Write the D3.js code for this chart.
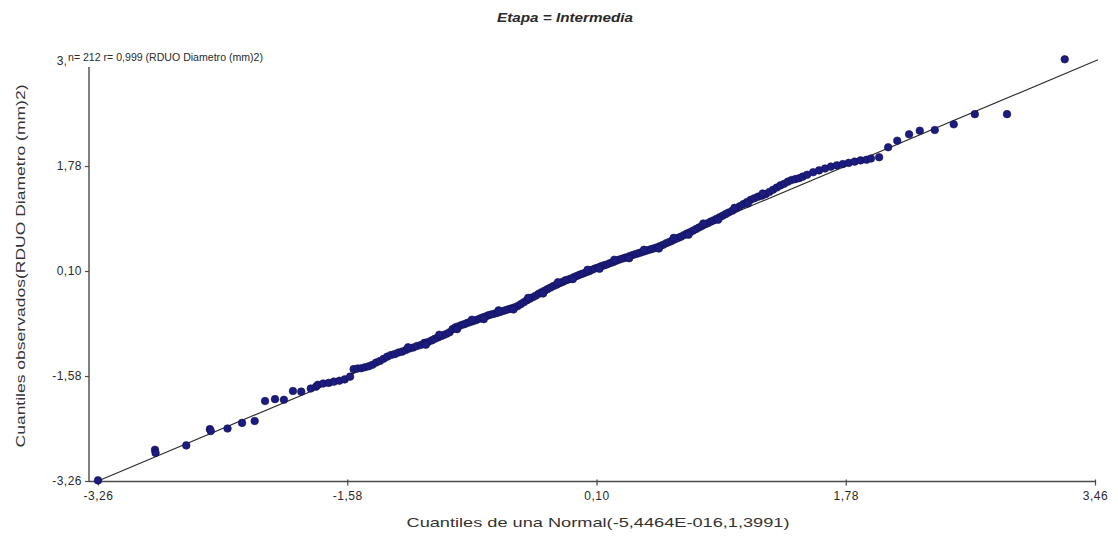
<!DOCTYPE html>
<html>
<head>
<meta charset="utf-8">
<script src="https://cdn.jsdelivr.net/npm/d3@7/dist/d3.min.js"></script>
<style>
  html, body { margin: 0; padding: 0; background: #fff; }
  svg { display: block; font-family: "Liberation Sans", Arial, sans-serif; }
</style>
</head>
<body>
<svg id="chart" width="1118" height="539"></svg>
<script>
// Normal Q-Q plot of RDUO Diametro (mm)2, stage "Intermedia"
const title = "Etapa = Intermedia";
const statsNote = "n= 212 r= 0,999 (RDUO Diametro (mm)2)";
const xTitle = "Cuantiles de una Normal(-5,4464E-016,1,3991)";
const yTitle = "Cuantiles observados(RDUO Diametro (mm)2)";

const tickValues = [-3.26, -1.58, 0.10, 1.78, 3.46];
const tickLabels = ["-3,26", "-1,58", "0,10", "1,78", "3,46"];

// theoretical normal quantiles (x) and observed quantiles (y)
const theoretical = [
  -3.26, -2.876, -2.872, -2.665, -2.506, -2.50, -2.387, -2.289, -2.204, -2.134, -2.067, -2.007, -1.946, -1.89,
  -1.826, -1.79, -1.778, -1.742, -1.705, -1.67, -1.633, -1.597, -1.561, -1.537, -1.51,
  -1.485, -1.46, -1.435, -1.41, -1.385, -1.36, -1.335, -1.31, -1.285, -1.26,
  -1.235, -1.21, -1.185, -1.16, -1.135, -1.11, -1.085, -1.06, -1.035, -1.01,
  -0.99, -0.97, -0.95, -0.93, -0.91, -0.89, -0.87, -0.85, -0.83, -0.81,
  -0.79, -0.77, -0.75, -0.73, -0.71, -0.69, -0.67, -0.65, -0.63, -0.61,
  -0.59, -0.57, -0.55, -0.53, -0.51, -0.49, -0.47, -0.45, -0.43, -0.41,
  -0.39, -0.37, -0.35, -0.33, -0.31, -0.29, -0.27, -0.25, -0.23, -0.21,
  -0.19, -0.17, -0.15, -0.13, -0.11, -0.09, -0.07, -0.05, -0.03, -0.01,
  0.01, 0.03, 0.05, 0.07, 0.09, 0.11, 0.13, 0.15, 0.17, 0.19,
  0.21, 0.23, 0.25, 0.27, 0.29, 0.31, 0.33, 0.35, 0.37, 0.39,
  0.41, 0.43, 0.45, 0.47, 0.49, 0.51, 0.53, 0.55, 0.57, 0.59,
  0.61, 0.63, 0.65, 0.67, 0.69, 0.71, 0.73, 0.75, 0.77, 0.79,
  0.81, 0.83, 0.85, 0.87, 0.89, 0.91, 0.93, 0.95, 0.97, 0.99,
  1.015, 1.04, 1.065, 1.09, 1.115, 1.14, 1.165, 1.19, 1.215, 1.24,
  1.265, 1.29, 1.315, 1.34, 1.365, 1.39, 1.415, 1.44, 1.465, 1.49,
  1.52, 1.56, 1.60, 1.64, 1.68, 1.72, 1.76, 1.80, 1.84, 1.88, 1.92, 1.95, 2.005,
  2.066, 2.127, 2.207, 2.279, 2.38, 2.508, 2.65, 2.867, 3.256,
  -1.17, -1.05, -0.96, -0.84, -0.74, -0.66, -0.56, -0.46, -0.36, -0.26,
  -0.16, -0.06, 0.04, 0.12, 0.22, 0.32, 0.42, 0.52, 0.62, 0.72,
  0.82, 0.92, 1.03, 1.12, 1.22
];
const observed = [
  -3.25, -2.76, -2.81, -2.69, -2.43, -2.46, -2.42, -2.33, -2.30, -1.98, -1.95, -1.96, -1.82, -1.83,
  -1.78, -1.75, -1.72, -1.70, -1.69, -1.67, -1.655, -1.634, -1.59, -1.47, -1.46,
  -1.455, -1.44, -1.425, -1.40, -1.365, -1.34, -1.305, -1.27, -1.245, -1.23,
  -1.205, -1.19, -1.165, -1.14, -1.125, -1.10, -1.085, -1.05, -1.035, -1.01,
  -0.985, -0.965, -0.945, -0.925, -0.905, -0.88, -0.83, -0.80, -0.785, -0.765,
  -0.75, -0.73, -0.715, -0.70, -0.685, -0.665, -0.645, -0.63, -0.61, -0.595,
  -0.585, -0.57, -0.555, -0.54, -0.525, -0.51, -0.495, -0.48, -0.46, -0.43,
  -0.40, -0.37, -0.345, -0.32, -0.295, -0.265, -0.24, -0.215, -0.19, -0.165,
  -0.14, -0.12, -0.095, -0.075, -0.05, -0.035, -0.02, 0.005, 0.025, 0.045,
  0.06, 0.08, 0.095, 0.12, 0.14, 0.155, 0.175, 0.19, 0.205, 0.225,
  0.24, 0.26, 0.28, 0.295, 0.31, 0.325, 0.345, 0.36, 0.375, 0.39,
  0.405, 0.42, 0.435, 0.45, 0.465, 0.48, 0.50, 0.52, 0.545, 0.565,
  0.585, 0.61, 0.63, 0.65, 0.675, 0.70, 0.72, 0.745, 0.77, 0.795,
  0.82, 0.845, 0.865, 0.89, 0.91, 0.935, 0.96, 0.985, 1.01, 1.035,
  1.065, 1.10, 1.135, 1.17, 1.205, 1.24, 1.265, 1.29, 1.305, 1.33,
  1.365, 1.40, 1.435, 1.47, 1.495, 1.53, 1.555, 1.57, 1.585, 1.61,
  1.64, 1.68, 1.71, 1.74, 1.77, 1.79, 1.81, 1.83, 1.85, 1.87, 1.88, 1.90, 1.92,
  2.08, 2.185, 2.287, 2.345, 2.356, 2.447, 2.61, 2.61, 3.487,
  -1.12, -1.08, -0.92, -0.83, -0.68, -0.67, -0.53, -0.515, -0.33, -0.26,
  -0.08, -0.03, 0.12, 0.135, 0.28, 0.305, 0.44, 0.46, 0.63, 0.68,
  0.86, 0.92, 1.11, 1.18, 1.34
];
// identity reference line endpoints
const refLine = [-3.26, 3.48];

const svg = d3.select("#chart");
const x = d3.scaleLinear().domain([-3.26, 3.46]).range([98, 1095]);
const y = d3.scaleLinear().domain([-3.26, 3.46]).range([481, 61]);
const axisColor = "#4a4a4a";
const textColor = "#2a2a2a";

// title
svg.append("text")
  .attr("x", 565).attr("y", 22)
  .attr("text-anchor", "middle")
  .attr("font-size", 12).attr("font-weight", "bold").attr("font-style", "italic")
  .attr("fill", textColor)
  .attr("textLength", 136).attr("lengthAdjust", "spacingAndGlyphs")
  .text(title);

// y axis
const yAxis = svg.append("g").attr("transform", "translate(89,0)")
  .call(d3.axisLeft(y).tickValues(tickValues).tickFormat((d, i) => tickLabels[i]).tickSize(4).tickPadding(3));
yAxis.select(".domain").attr("stroke", axisColor).attr("stroke-width", 1.4)
  .attr("d", `M0,${y(3.46)}V${y(-3.26)}`);
yAxis.selectAll(".tick line").attr("stroke", axisColor).attr("stroke-width", 1.2);
yAxis.selectAll(".tick text").attr("font-size", 12).attr("letter-spacing", 0.5).attr("fill", textColor)
  .attr("font-family", "Liberation Sans, Arial, sans-serif");

// x axis
const xAxis = svg.append("g").attr("transform", `translate(0,${y(-3.26) + 0.5})`)
  .call(d3.axisBottom(x).tickValues(tickValues).tickFormat((d, i) => tickLabels[i]).tickSize(4).tickPadding(6));
xAxis.select(".domain").attr("stroke", axisColor).attr("stroke-width", 1.4)
  .attr("d", `M89,0H${x(3.46)}`);
xAxis.selectAll(".tick line").attr("stroke", axisColor).attr("stroke-width", 1.2).attr("y1", -2);
xAxis.selectAll(".tick text").attr("font-size", 12).attr("letter-spacing", 0.5).attr("fill", textColor)
  .attr("font-family", "Liberation Sans, Arial, sans-serif");

// reference line
svg.append("line")
  .attr("x1", x(refLine[0])).attr("y1", y(refLine[0]))
  .attr("x2", x(refLine[1])).attr("y2", y(refLine[1]))
  .attr("stroke", "#2b2b2b").attr("stroke-width", 1.1);

// points
const pts = theoretical.map((t, i) => ({ t, o: observed[i] }));
svg.append("g").selectAll("circle").data(pts).join("circle")
  .attr("cx", d => x(d.t)).attr("cy", d => y(d.o)).attr("r", 3.8)
  .attr("fill", "#1b1b80").attr("stroke", "#12124f").attr("stroke-width", 0.6);

// statistics note with its white box over the top of the axis
svg.append("rect").attr("x", 66).attr("y", 48).attr("width", 200).attr("height", 19).attr("fill", "#fff");
svg.append("text")
  .attr("x", 68).attr("y", 61)
  .attr("font-size", 11).attr("fill", textColor)
  .attr("textLength", 195).attr("lengthAdjust", "spacingAndGlyphs")
  .text(statsNote);

// axis titles
svg.append("text")
  .attr("x", 598).attr("y", 527)
  .attr("text-anchor", "middle").attr("font-size", 13).attr("fill", "#333")
  .attr("textLength", 383).attr("lengthAdjust", "spacingAndGlyphs")
  .text(xTitle);

svg.append("text")
  .attr("transform", "translate(25,266) rotate(-90)")
  .attr("text-anchor", "middle").attr("font-size", 12.5).attr("fill", "#333")
  .attr("textLength", 363).attr("lengthAdjust", "spacingAndGlyphs")
  .text(yTitle);
</script>
</body>
</html>
